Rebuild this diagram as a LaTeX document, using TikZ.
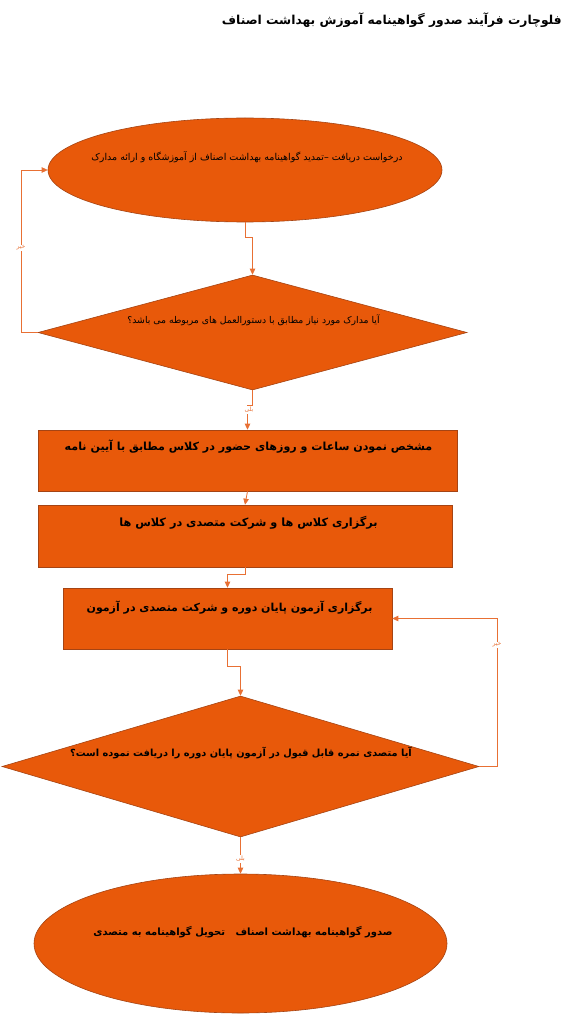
\documentclass[tikz,border=0pt]{standalone}
\usepackage{fontspec}
\usetikzlibrary{shapes.geometric,arrows.meta}
\TeXXeTstate=1
\newfontfamily\arabicfont[Script=Arabic]{DejaVu Sans}
\definecolor{shapefill}{RGB}{232,89,10}
\definecolor{shapeedge}{RGB}{165,68,20}
\definecolor{linecol}{RGB}{232,112,52}
\newcommand{\rtltext}[1]{\beginR #1\endR}
\newcommand{\fsz}[1]{\fontsize{#1}{#1}\selectfont}
\newcommand{\smallfont}[1]{\arabicfont\fsz{#1}}
\newcommand{\bigfont}[1]{\arabicfont\bfseries\fsz{#1}}
\begin{document}
\begin{tikzpicture}[x=1pt,y=-1pt,
  shapebase/.style={draw=shapeedge, fill=shapefill, line width=0.6pt, inner sep=0pt},
  oval/.style={shapebase, ellipse},
  decision/.style={shapebase, diamond},
  procbox/.style={shapebase, rectangle},
  conn/.style={draw=linecol, line width=0.8pt, -{Triangle[length=6pt,width=5.5pt]}},
  lbl/.style={font=\arabicfont\fontsize{6}{7}\selectfont, text=linecol, fill=white, inner sep=0.8pt},
  txtnode/.style={text=black, inner sep=0pt}
]
\useasboundingbox (0,0) rectangle (581,1016);

% title
\node[anchor=east, inner sep=0pt, font=\bigfont{12.3}] (title) at (562,20)
  {\rtltext{فلوچارت فرآیند صدور گواهینامه آموزش بهداشت اصناف}};

% shapes
\node[oval, minimum width=394pt, minimum height=104pt] (e1) at (245,170) {};
\node[decision, minimum width=429pt, minimum height=115pt] (d1) at (252.5,332.5) {};
\node[procbox, minimum width=419pt, minimum height=61pt] (r1) at (247.5,460.5) {};
\node[procbox, minimum width=414pt, minimum height=62pt] (r2) at (245,536) {};
\node[procbox, minimum width=329pt, minimum height=61pt] (r3) at (227.5,618.5) {};
\node[decision, minimum width=477pt, minimum height=141pt] (d2) at (240.5,766.5) {};
\node[oval, minimum width=413pt, minimum height=139pt] (e2) at (240.5,943.5) {};

% texts
\node[txtnode, font=\smallfont{9.5}] (te1) at (247,157) {\rtltext{درخواست دریافت –تمدید گواهینامه بهداشت اصناف از آموزشگاه و ارائه مدارک}};
\node[txtnode, font=\smallfont{9.3}] (td1) at (253.5,320) {\rtltext{آیا مدارک مورد نیاز مطابق با دستورالعمل های مربوطه می باشد؟}};
\node[txtnode, font=\bigfont{11.1}] (tr1) at (248.5,447) {\rtltext{مشخص نمودن ساعات و روزهای حضور در کلاس مطابق با آیین نامه}};
\node[txtnode, font=\bigfont{11.3}] (tr2) at (248.5,523) {\rtltext{برگزاری کلاس ها و شرکت متصدی در کلاس ها}};
\node[txtnode, font=\bigfont{11}] (tr3) at (229.5,608) {\rtltext{برگزاری آزمون پایان دوره و شرکت متصدی در آزمون}};
\node[txtnode, font=\bigfont{9.8}] (td2) at (241,753) {\rtltext{آیا متصدی نمره قابل قبول در آزمون پایان دوره را دریافت نموده است؟}};
\node[txtnode, font=\bigfont{10}] (te2) at (243,932) {\rtltext{صدور گواهینامه بهداشت اصناف \ \ تحویل گواهینامه به متصدی}};

% connectors
\draw[conn] (e1.south) -- ++(0,15) -| (d1.north);
\draw[conn] (d1.west) -- ++(-16,0) |- (e1.west);
\draw[conn] (d1.south) -- ++(0,15) -| (r1.north);
\draw[conn] (r1.south) -- (r2.north);
\draw[conn] (r2.south) -- ++(0,7) -| (r3.north);
\draw[conn] (r3.south) -- ++(0,17) -| (d2.north);
\draw[conn] (d2.east) -- ++(18,0) |- (r3.east);
\draw[conn] (d2.south) -- (e2.north);

% labels
\node[lbl] (no1) at (21,248) {\rtltext{خیر}};
\node[lbl] (yes1) at (249,410) {\rtltext{بلی}};
\node[lbl] (no2) at (497,645) {\rtltext{خیر}};
\node[lbl] (yes2) at (240.5,859) {\rtltext{بلی}};
\end{tikzpicture}
\end{document}
